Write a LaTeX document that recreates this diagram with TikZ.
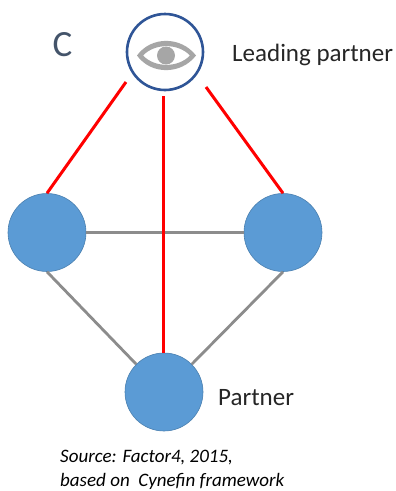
\documentclass[tikz,border=0pt]{standalone}
\usepackage{fontspec}
\setmainfont{Carlito}
\definecolor{partnerblue}{HTML}{5B9BD5}
\definecolor{partneredge}{HTML}{4A80B0}
\definecolor{leadblue}{HTML}{2F5597}
\definecolor{linkgrey}{HTML}{8C8C8C}
\definecolor{eyegrey}{HTML}{A6A6A6}
\definecolor{textgrey}{HTML}{262626}
\definecolor{letterblue}{HTML}{44546A}
\tikzset{
  partner/.style={circle,fill=partnerblue,draw=partneredge,line width=0.6pt,minimum size=78pt,inner sep=0pt},
  leader/.style={circle,fill=white,draw=leadblue,line width=2.6pt,minimum size=76pt,inner sep=0pt},
  redlink/.style={draw=red,line width=3pt},
  greylink/.style={draw=linkgrey,line width=2.8pt},
  lbl/.style={inner sep=0pt,text=textgrey,font=\fontsize{25}{30}\selectfont},
  src/.style={inner sep=0pt,text=black,align=left,font=\fontsize{19}{24}\selectfont\itshape}
}
\begin{document}
\begin{tikzpicture}[x=1pt,y=-1pt]
\useasboundingbox (0,0) rectangle (396,491);
\fill[white] (0,0) rectangle (396,491);
\coordinate (redL) at (126,82);
\coordinate (redC) at (163,96);
\coordinate (redR) at (206,87);
\node[leader] (top) at (165,52) {};
\node[partner] (left) at (47,232.5) {};
\node[partner] (right) at (283,232.5) {};
\node[partner] (bottom) at (164,392) {};
\draw[greylink] (left) -- (right);
\draw[greylink] (left.south) -- (bottom.135);
\draw[greylink] (right.south) -- (bottom.45);
\draw[redlink] (redL) -- (left.north);
\draw[redlink] (redR) -- (right.north);
\draw[redlink] (redC) -- (bottom.north -| redC);
% eye
\fill[eyegrey,even odd rule]
  (137,55.5) .. controls (151,36) and (181,36) .. (196,55.5)
  .. controls (181,75) and (151,75) .. (137,55.5) -- cycle
  (143,55.5) .. controls (155,43) and (178,43) .. (190,55.5)
  .. controls (178,68) and (155,68) .. (143,55.5) -- cycle;
\fill[eyegrey] (166,55.5) circle (9pt);
\node[inner sep=0pt,text=letterblue,font=\fontsize{37}{40}\selectfont,anchor=center] (c) at (62.5,45) {C};
\node[lbl,anchor=west] (lead) at (232,55) {Leading partner};
\node[lbl,anchor=west] (part) at (218,398) {Partner};
\node[src,anchor=north west] (source) at (60,450) {Source: Factor4, 2015,\\based on\ \ Cynefin framework};
\end{tikzpicture}
\end{document}
